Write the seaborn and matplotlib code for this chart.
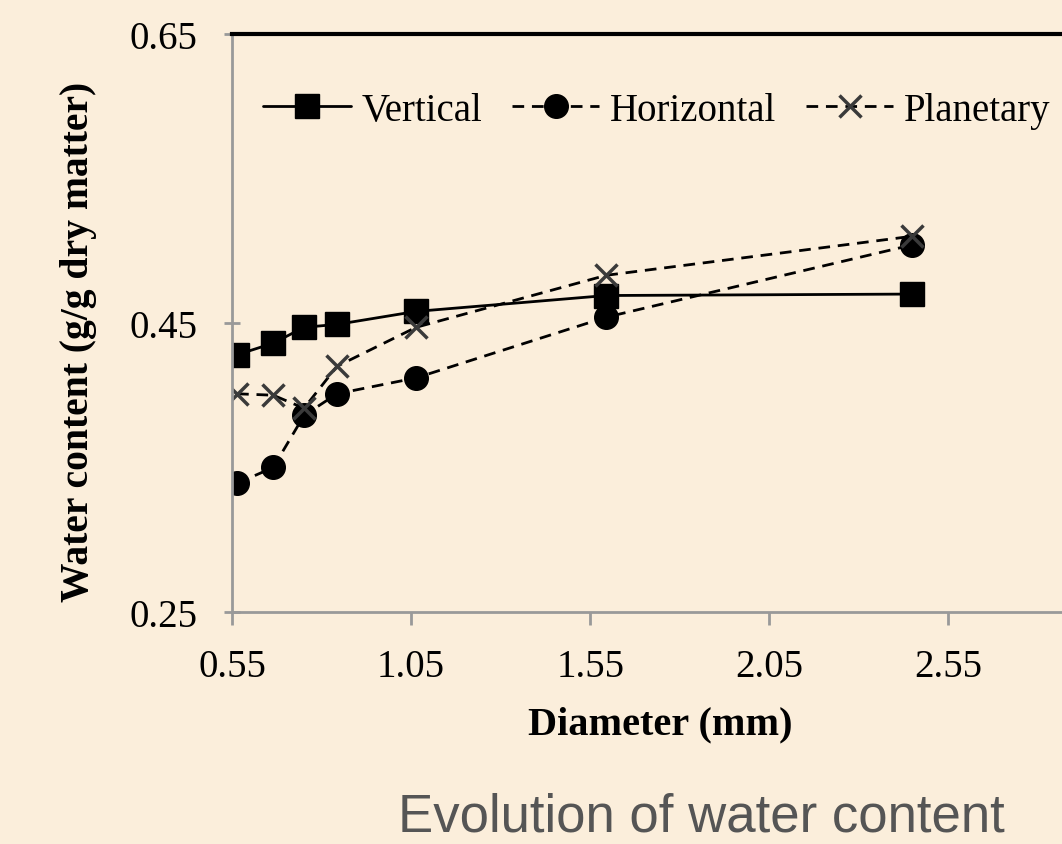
import pandas as pd
import matplotlib
matplotlib.use("Agg")
import matplotlib.pyplot as plt
import seaborn as sns

# data
diameter = [0.564, 0.665, 0.751, 0.843, 1.064, 1.595, 2.449]
vertical = [0.428, 0.436, 0.447, 0.449, 0.458, 0.469, 0.470]
horizontal = [0.339, 0.350, 0.386, 0.401, 0.412, 0.454, 0.504]
planetary = [0.401, 0.400, 0.391, 0.420, 0.447, 0.483, 0.510]
methods = ["Vertical", "Horizontal", "Planetary"]
x_ticks = [0.55, 1.05, 1.55, 2.05, 2.55]
y_ticks = [0.25, 0.45, 0.65]

df = pd.DataFrame({
    "Diameter": diameter * 3,
    "Water": vertical + horizontal + planetary,
    "Method": [m for m in methods for _ in diameter],
})

bg = "#fbeedb"
sns.set_theme(style="ticks")
plt.rcParams["font.family"] = ["Liberation Serif", "DejaVu Serif"]
plt.rcParams["figure.facecolor"] = bg
plt.rcParams["axes.facecolor"] = bg
plt.rcParams["text.color"] = "black"
plt.rcParams["axes.labelcolor"] = "black"
plt.rcParams["xtick.labelcolor"] = "black"
plt.rcParams["ytick.labelcolor"] = "black"

fig = plt.figure(figsize=(10.62, 8.45), dpi=100)
ax = fig.add_axes([0.2185, 0.2746, 0.843, 0.684])

sns.lineplot(
    data=df, x="Diameter", y="Water", hue="Method", style="Method",
    hue_order=methods, style_order=methods,
    palette={"Vertical": "black", "Horizontal": "black", "Planetary": "black"},
    markers={"Vertical": "s", "Horizontal": "o", "Planetary": "X"},
    dashes={"Vertical": "", "Horizontal": (4.2, 2.8), "Planetary": (4.2, 2.8)},
    linewidth=2.0, markersize=17, ax=ax, legend=False,
)

# seaborn gives markers white edges; make them solid
for line in ax.lines:
    line.set_markeredgecolor("black")
    line.set_markeredgewidth(1)
ax.lines[2].set_marker("x")
ax.lines[2].set_markeredgecolor("#3a3a3a")
ax.lines[2].set_markeredgewidth(2.5)
ax.lines[2].set_markersize(16)

ax.set_xlim(0.55, 3.05)
ax.set_ylim(0.25, 0.65)
ax.set_xticks(x_ticks)
ax.set_yticks(y_ticks)
ax.set_xticklabels([f"{v:.2f}" for v in x_ticks])
ax.set_yticklabels([f"{v:.2f}" for v in y_ticks])
ax.tick_params(axis="both", labelsize=28, color="#999999", width=2)
ax.tick_params(axis="x", length=9, direction="out", pad=17)
ax.tick_params(axis="y", length=12, direction="inout", pad=19)

for side in ["left", "bottom"]:
    ax.spines[side].set_color("#999999")
    ax.spines[side].set_linewidth(2)
ax.spines["top"].set_color("black")
ax.spines["top"].set_linewidth(3)
ax.spines["right"].set_visible(False)

ax.set_xlabel("Diameter (mm)", fontsize=29, fontweight="bold")
ax.set_ylabel("Water content (g/g dry matter)", fontsize=28.5, fontweight="bold")
ax.xaxis.set_label_coords(0.478, -0.162)
ax.yaxis.set_label_coords(-0.151, 0.469)

ax.legend(ax.lines, methods, loc="center left", bbox_to_anchor=(-0.004, 0.868),
          ncol=3, frameon=False, fontsize=28, handlelength=2.24, columnspacing=0.77,
          handletextpad=0.28, labelcolor="black")

fig.text(0.66, 0.032, "Evolution of water content", fontsize=38, color="#555555",
         family=["Liberation Sans", "DejaVu Sans"], ha="center", va="center")

plt.savefig("out.png", dpi=100, facecolor=bg)
